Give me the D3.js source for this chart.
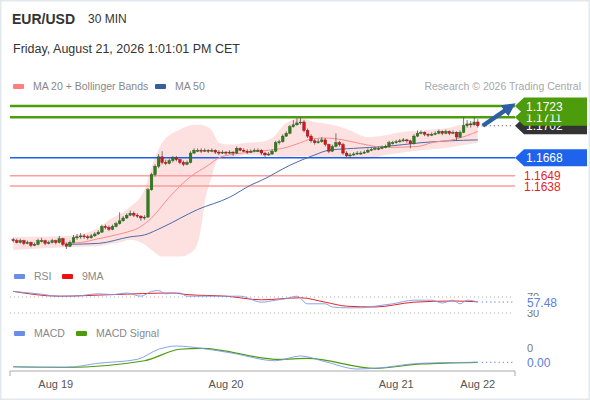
<!DOCTYPE html>
<html>
<head>
<meta charset="utf-8">
<script src="https://cdn.jsdelivr.net/npm/d3@7"></script>
<style>
  body { margin: 0; background: #fff; }
  svg { font-family: "Liberation Sans", Arial, sans-serif; display: block; }
</style>
</head>
<body>
<svg id="chart" width="590" height="400"></svg>
<script>
// 30 min candles, [open, high, low, close]
const candles = [
  [1.1581,1.1583,1.1578,1.1580],[1.1580,1.1582,1.1577,1.1578],[1.1578,1.1582,1.1577,1.1580],[1.1580,1.1581,1.1575,1.1577],
  [1.1577,1.1580,1.1576,1.1578],[1.1578,1.1579,1.1573,1.1575],[1.1575,1.1578,1.1574,1.1576],[1.1576,1.1582,1.1575,1.1580],
  [1.1580,1.1583,1.1578,1.1580],[1.1580,1.1581,1.1575,1.1577],[1.1577,1.1580,1.1576,1.1578],[1.1578,1.1582,1.1577,1.1580],
  [1.1580,1.1581,1.1576,1.1578],[1.1578,1.1585,1.1577,1.1582],[1.1582,1.1583,1.1574,1.1576],[1.1576,1.1578,1.1571,1.1574],
  [1.1574,1.1580,1.1573,1.1578],[1.1578,1.1586,1.1577,1.1583],[1.1583,1.1587,1.1581,1.1584],[1.1584,1.1588,1.1582,1.1585],
  [1.1585,1.1587,1.1582,1.1584],[1.1584,1.1586,1.1581,1.1583],[1.1583,1.1587,1.1582,1.1585],[1.1585,1.1589,1.1584,1.1587],
  [1.1587,1.1591,1.1586,1.1589],[1.1589,1.1597,1.1588,1.1595],[1.1595,1.1597,1.1592,1.1594],[1.1594,1.1596,1.1590,1.1592],
  [1.1592,1.1597,1.1591,1.1595],[1.1595,1.1600,1.1594,1.1598],[1.1598,1.1610,1.1597,1.1601],[1.1601,1.1606,1.1600,1.1604],
  [1.1604,1.1609,1.1603,1.1607],[1.1607,1.1612,1.1606,1.1609],[1.1609,1.1611,1.1605,1.1607],[1.1607,1.1609,1.1604,1.1606],
  [1.1606,1.1607,1.1601,1.1604],[1.1604,1.1607,1.1602,1.1605],[1.1605,1.1636,1.1604,1.1634],[1.1634,1.1652,1.1633,1.1650],
  [1.1650,1.1661,1.1648,1.1659],[1.1659,1.1672,1.1657,1.1669],[1.1669,1.1675,1.1661,1.1663],[1.1663,1.1666,1.1660,1.1662],
  [1.1662,1.1667,1.1661,1.1665],[1.1665,1.1670,1.1663,1.1668],[1.1668,1.1670,1.1664,1.1666],[1.1666,1.1667,1.1661,1.1663],
  [1.1663,1.1665,1.1659,1.1661],[1.1661,1.1665,1.1660,1.1663],[1.1663,1.1675,1.1662,1.1673],[1.1673,1.1678,1.1672,1.1676],
  [1.1676,1.1678,1.1674,1.1676],[1.1676,1.1678,1.1673,1.1675],[1.1675,1.1678,1.1674,1.1676],[1.1676,1.1677,1.1673,1.1675],
  [1.1675,1.1678,1.1674,1.1676],[1.1676,1.1677,1.1672,1.1674],[1.1674,1.1676,1.1671,1.1673],[1.1673,1.1676,1.1672,1.1674],
  [1.1674,1.1675,1.1671,1.1673],[1.1673,1.1676,1.1672,1.1674],[1.1674,1.1675,1.1670,1.1673],[1.1673,1.1680,1.1672,1.1678],
  [1.1678,1.1679,1.1675,1.1676],[1.1676,1.1678,1.1674,1.1675],[1.1675,1.1677,1.1672,1.1674],[1.1674,1.1677,1.1673,1.1675],
  [1.1675,1.1678,1.1674,1.1676],[1.1676,1.1678,1.1674,1.1676],[1.1676,1.1677,1.1671,1.1673],[1.1673,1.1674,1.1669,1.1671],
  [1.1671,1.1674,1.1670,1.1672],[1.1672,1.1677,1.1671,1.1675],[1.1675,1.1686,1.1674,1.1684],[1.1684,1.1687,1.1682,1.1685],
  [1.1685,1.1693,1.1684,1.1691],[1.1691,1.1696,1.1690,1.1694],[1.1694,1.1703,1.1693,1.1701],[1.1701,1.1708,1.1700,1.1703],
  [1.1703,1.1710,1.1702,1.1705],[1.1705,1.1711,1.1703,1.1706],[1.1706,1.1708,1.1695,1.1697],[1.1697,1.1699,1.1689,1.1691],
  [1.1691,1.1693,1.1684,1.1686],[1.1686,1.1688,1.1682,1.1684],[1.1684,1.1688,1.1683,1.1685],[1.1685,1.1690,1.1684,1.1687],
  [1.1687,1.1689,1.1680,1.1682],[1.1682,1.1683,1.1673,1.1675],[1.1675,1.1682,1.1674,1.1680],[1.1680,1.1694,1.1679,1.1684],
  [1.1684,1.1686,1.1680,1.1682],[1.1682,1.1684,1.1671,1.1673],[1.1673,1.1675,1.1668,1.1670],[1.1670,1.1673,1.1668,1.1671],
  [1.1671,1.1674,1.1670,1.1672],[1.1672,1.1675,1.1671,1.1673],[1.1673,1.1675,1.1671,1.1673],[1.1673,1.1676,1.1672,1.1674],
  [1.1674,1.1678,1.1673,1.1676],[1.1676,1.1679,1.1675,1.1677],[1.1677,1.1680,1.1676,1.1678],[1.1678,1.1680,1.1676,1.1678],
  [1.1678,1.1681,1.1677,1.1679],[1.1679,1.1682,1.1678,1.1680],[1.1680,1.1686,1.1679,1.1684],[1.1684,1.1686,1.1682,1.1684],
  [1.1684,1.1687,1.1683,1.1685],[1.1685,1.1688,1.1684,1.1686],[1.1686,1.1689,1.1685,1.1687],[1.1687,1.1688,1.1684,1.1686],
  [1.1686,1.1687,1.1678,1.1683],[1.1683,1.1693,1.1682,1.1691],[1.1691,1.1697,1.1690,1.1694],[1.1694,1.1697,1.1693,1.1695],
  [1.1695,1.1696,1.1691,1.1693],[1.1693,1.1694,1.1690,1.1692],[1.1692,1.1695,1.1691,1.1693],[1.1693,1.1696,1.1692,1.1694],
  [1.1694,1.1698,1.1693,1.1696],[1.1696,1.1697,1.1692,1.1694],[1.1694,1.1698,1.1693,1.1696],[1.1696,1.1697,1.1692,1.1694],
  [1.1694,1.1697,1.1693,1.1695],[1.1695,1.1696,1.1686,1.1690],[1.1690,1.1697,1.1689,1.1695],[1.1695,1.1711,1.1694,1.1702],
  [1.1702,1.1708,1.1700,1.1704],[1.1704,1.1707,1.1700,1.1703],[1.1703,1.1711,1.1702,1.1706],[1.1706,1.1709,1.1700,1.1702]
];

// moving averages read at candle indexes
const ma20Idx = [14,19,24,30,36,39,44,50,55,58,61,67,72,76,81,84,88,93,98,105,114,118,125,131];
const ma20Val = [1.1577,1.1578,1.1582,1.1587,1.1595,1.1604,1.1626,1.1648,1.1660,1.1668,1.1671,1.1674,1.1676,1.1678,1.1684,1.1688,1.1689,1.1687,1.1683,1.1679,1.1680,1.1684,1.1688,1.1696];
const ma50Idx = [15,24,33,37,42,52,61,67,70,78,85,89,96,105,115,123,131];
const ma50Val = [1.1576,1.1577,1.1584,1.1586,1.1594,1.1613,1.1626,1.1639,1.1644,1.1660,1.1671,1.1676,1.1678,1.1680,1.1684,1.1686,1.1687];

// bollinger bands
const bbIdx = [0,15,24,27,30,33,37,39,42,47,51,53,54,56,57,58,61,66,70,73,77,81,85,90,95,100,105,109,115,118,123,126,131];
const bbUpper = [1.1584,1.1585,1.1593,1.1602,1.1608,1.1616,1.1634,1.1658,1.1684,1.1698,1.1703,1.1703,1.1702,1.1697,1.1690,1.1684,1.1682,1.1684,1.1685,1.1689,1.1705,1.1710,1.1706,1.1703,1.1697,1.1690,1.1692,1.1695,1.1697,1.1698,1.1700,1.1703,1.1706];
const bbLower = [1.1570,1.1573,1.1574,1.1576,1.1578,1.1581,1.1576,1.1570,1.1563,1.1563,1.1570,1.1594,1.1620,1.1648,1.1662,1.1667,1.1668,1.1671,1.1670,1.1670,1.1669,1.1670,1.1669,1.1669,1.1666,1.1667,1.1671,1.1673,1.1676,1.1677,1.1679,1.1681,1.1684];

// key levels
const levels = [1.1723, 1.1711, 1.1668, 1.1649, 1.1638];
const levelKind = ["res", "res", "piv", "sup", "sup"];
const lastPrice = 1.1702;
const targetPrice = 1.1725;

// RSI panel
const rsiIdx = [0,7,13,17,24,28,32,36,39,41,43,47,49,53,60,64,70,74,77,80,83,88,90,94,98,102,107,113,118,121,124,126,128,131];
const rsiVal = [84,78,72,72,78,76,80,72,84,86,78,80,72,72,72,72,57,62,66,72,53,53,45,43,43,47,53,62,62,55,62,53,62,57.48];
const rsiMaIdx = [0,13,28,45,49,60,70,81,88,94,102,113,124,131];
const rsiMaVal = [84,72,76,80,76,72,63,68,57,47,45,57,60,58];
const rsiTicks = [70, 30];
const rsiLast = "57.48";

// MACD panel (x 1e-3)
const macdIdx = [0,15,24,35,41,46,53,62,74,81,88,97,102,115,131];
const macdVal = [-0.34,-0.38,-0.09,0.19,0.91,1.14,0.98,0.62,0.09,0.43,0.02,-0.5,-0.45,-0.09,-0.02];
const sigIdx = [0,15,37,47,53,75,83,102,115,131];
const sigVal = [-0.34,-0.38,0.09,0.91,0.98,0.19,0.26,-0.45,-0.14,-0.02];
const macdTicks = [1, -1];
const macdTickLabels = ["0", "-0"];
const macdLast = "0.00";

// x axis
const dateIdx = [12, 60, 108, 131];
const dateLabels = ["Aug 19", "Aug 20", "Aug 21", "Aug 22"];

const svg = d3.select("#chart");

// card frame
svg.append("rect").attr("x", 0.5).attr("y", 0.5).attr("width", 589).attr("height", 399)
  .attr("fill", "#fff").attr("stroke", "#e3e8ee").attr("stroke-width", 2);

// header
svg.append("text").attr("x", 12).attr("y", 24).attr("font-size", 14).attr("font-weight", "bold")
  .attr("fill", "#333").text("EUR/USD");
svg.append("text").attr("x", 88).attr("y", 23).attr("font-size", 12).attr("fill", "#333").text("30 MIN");
svg.append("text").attr("x", 13).attr("y", 53).attr("font-size", 12.5).attr("fill", "#333")
  .text("Friday, August 21, 2026 1:01:01 PM CET");

function legend(x, y, color, label) {
  svg.append("rect").attr("x", x).attr("y", y - 6).attr("width", 11).attr("height", 5).attr("rx", 1).attr("fill", color);
  svg.append("text").attr("x", x + 20).attr("y", y).attr("font-size", 10.5).attr("fill", "#888").text(label);
}
legend(13, 90, "#ff7e7e", "MA 20 + Bollinger Bands");
legend(155, 90, "#3a5d9c", "MA 50");
svg.append("text").attr("x", 581).attr("y", 90).attr("text-anchor", "end").attr("font-size", 10.5)
  .attr("fill", "#a8a8a8").text("Research \u00a9 2026 Trading Central");

// scales
const x = d3.scaleBand().domain(d3.range(candles.length)).range([11, 480]).padding(0.25);
const xc = i => x(i) + x.bandwidth() / 2;
const y = d3.scaleLinear().domain([1.1638, 1.1723]).range([186, 106]);
const plotRight = 513;

// bollinger band fill
const bb = bbIdx.map((d, i) => ({ i: d, hi: bbUpper[i], lo: bbLower[i] }));
svg.append("path").datum(bb)
  .attr("fill", "#fde1e1")
  .attr("d", d3.area().x(d => xc(d.i)).y0(d => y(d.lo)).y1(d => y(d.hi)).curve(d3.curveMonotoneX));

// level lines
const levelColor = { res: "#4c9c0c", piv: "#1d5fe6", sup: "#ff9d9d" };
levels.forEach((p, k) => {
  const kind = levelKind[k];
  svg.append("line").attr("x1", 10).attr("x2", plotRight + 2).attr("y1", y(p)).attr("y2", y(p))
    .attr("stroke", levelColor[kind]).attr("stroke-width", kind == "res" ? 2.5 : 1.5);
});

// moving averages
const lineGen = d3.line().x(d => xc(d[0])).y(d => y(d[1])).curve(d3.curveMonotoneX);
svg.append("path").attr("d", lineGen(ma50Idx.map((d, i) => [d, ma50Val[i]])))
  .attr("fill", "none").attr("stroke", "#4a6aa8").attr("stroke-width", 1);
svg.append("path").attr("d", lineGen(ma20Idx.map((d, i) => [d, ma20Val[i]])))
  .attr("fill", "none").attr("stroke", "#ff8a8a").attr("stroke-width", 1);

// candles
const cg = svg.append("g");
cg.selectAll("line").data(candles).join("line")
  .attr("x1", (d, i) => xc(i)).attr("x2", (d, i) => xc(i))
  .attr("y1", d => y(d[1])).attr("y2", d => y(d[2]))
  .attr("stroke", "#555").attr("stroke-width", 0.8);
cg.selectAll("rect").data(candles).join("rect")
  .attr("x", (d, i) => x(i))
  .attr("width", x.bandwidth())
  .attr("y", d => y(Math.max(d[0], d[3])))
  .attr("height", d => Math.max(1, Math.abs(y(d[0]) - y(d[3]))))
  .attr("fill", d => d[3] >= d[0] ? "#2f7d1c" : "#d8141c")
  .attr("stroke", d => d[3] >= d[0] ? "#1f5a12" : "#8a1010")
  .attr("stroke-width", 0.4);

// last price dotted line
const lastX = xc(candles.length - 1);
svg.append("line").attr("x1", lastX + 4).attr("x2", plotRight).attr("y1", y(lastPrice)).attr("y2", y(lastPrice))
  .attr("stroke", "#444").attr("stroke-dasharray", "1,3");

// forecast arrow
svg.append("defs").append("marker").attr("id", "ah").attr("viewBox", "0 0 10 10")
  .attr("refX", 5).attr("refY", 5).attr("markerWidth", 3).attr("markerHeight", 3).attr("orient", "auto")
  .append("path").attr("d", "M0,0L10,5L0,10Z").attr("fill", "#2e5ea5");
svg.append("line").attr("x1", lastX + 5).attr("y1", y(lastPrice))
  .attr("x2", plotRight - 3).attr("y2", y(targetPrice) + 3)
  .attr("stroke", "#2e5ea5").attr("stroke-width", 4.5).attr("marker-end", "url(#ah)");

// level tags
function tag(p, fill, label) {
  const yy = y(p);
  svg.append("path")
    .attr("d", `M${plotRight + 2},${yy} L${plotRight + 11},${yy - 8.5} L587,${yy - 8.5} L587,${yy + 8.5} L${plotRight + 11},${yy + 8.5} Z`)
    .attr("fill", fill);
  svg.append("text").attr("x", 526).attr("y", yy + 4.5).attr("font-size", 12).attr("fill", "#fff").text(label);
}
tag(lastPrice, "#333", lastPrice.toFixed(4));
tag(levels[1], "#4c9c0c", levels[1].toFixed(4));
tag(levels[0], "#4c9c0c", levels[0].toFixed(4));
tag(levels[2], "#1d63ec", levels[2].toFixed(4));
levels.forEach((p, k) => {
  if (levelKind[k] == "sup") {
    svg.append("text").attr("x", 524).attr("y", y(p) + 4.5).attr("font-size", 12).attr("fill", "#e62424").text(p.toFixed(4));
  }
});

// RSI panel
legend(14, 280, "#6b8de8", "RSI");
legend(62, 280, "#ee1111", "9MA");
const yr = d3.scaleLinear().domain([30, 70]).range([313, 297]);
rsiTicks.forEach(t => {
  svg.append("line").attr("x1", 10).attr("x2", plotRight).attr("y1", yr(t)).attr("y2", yr(t))
    .attr("stroke", "#aaa").attr("stroke-dasharray", "1,3");
  svg.append("text").attr("x", 527).attr("y", yr(t) + 4).attr("font-size", 11).attr("fill", "#777").text(t);
});
const rLine = d3.line().x(d => xc(d[0])).y(d => yr(d[1])).curve(d3.curveMonotoneX);
svg.append("path").attr("d", rLine(rsiMaIdx.map((d, i) => [d, rsiMaVal[i]])))
  .attr("fill", "none").attr("stroke", "#e82222").attr("stroke-width", 1);
svg.append("path").attr("d", rLine(rsiIdx.map((d, i) => [d, rsiVal[i]])))
  .attr("fill", "none").attr("stroke", "#7b98e8").attr("stroke-width", 0.9);
const rLastY = yr(rsiVal[rsiVal.length - 1]);
svg.append("line").attr("x1", lastX + 4).attr("x2", plotRight).attr("y1", rLastY).attr("y2", rLastY)
  .attr("stroke", "#5a7fe0").attr("stroke-dasharray", "1.2,3");
svg.append("rect").attr("x", 524).attr("y", rLastY - 6).attr("width", 40).attr("height", 14).attr("fill", "#fff");
svg.append("text").attr("x", 527).attr("y", rLastY + 4.5).attr("font-size", 12).attr("fill", "#5a7fe0").text(rsiLast);

// MACD panel
legend(14, 337, "#6b8de8", "MACD");
legend(76, 337, "#4c9c0c", "MACD Signal");
const ym = d3.scaleLinear().domain([-1, 1]).range([376, 348]);
svg.append("clipPath").attr("id", "mclip").append("rect").attr("x", 500).attr("y", 330).attr("width", 90).attr("height", 42);
const mt = svg.append("g").attr("clip-path", "url(#mclip)");
macdTicks.forEach((t, k) => {
  mt.append("text").attr("x", 527).attr("y", ym(t) + 4).attr("font-size", 11).attr("fill", "#777").text(macdTickLabels[k]);
});
const mLine = d3.line().x(d => xc(d[0])).y(d => ym(d[1])).curve(d3.curveMonotoneX);
svg.append("path").attr("d", mLine(sigIdx.map((d, i) => [d, sigVal[i]])))
  .attr("fill", "none").attr("stroke", "#4c9c0c").attr("stroke-width", 1.2);
svg.append("path").attr("d", mLine(macdIdx.map((d, i) => [d, macdVal[i]])))
  .attr("fill", "none").attr("stroke", "#7b98e8").attr("stroke-width", 0.9);
const mLastY = ym(macdVal[macdVal.length - 1]);
svg.append("line").attr("x1", lastX + 4).attr("x2", plotRight).attr("y1", mLastY).attr("y2", mLastY)
  .attr("stroke", "#5a7fe0").attr("stroke-dasharray", "1.2,3");
svg.append("text").attr("x", 527).attr("y", mLastY + 4.5).attr("font-size", 12).attr("fill", "#5a7fe0").text(macdLast);

// x axis
const axisY = 371;
svg.append("path").attr("d", `M10,${axisY + 5}V${axisY}H${plotRight + 2}V${axisY + 5}`)
  .attr("fill", "none").attr("stroke", "#aaa").attr("stroke-width", 1);
svg.selectAll(".dl").data(dateIdx).join("text")
  .attr("class", "dl")
  .attr("x", d => xc(d)).attr("y", 388)
  .attr("text-anchor", "middle").attr("font-size", 11).attr("fill", "#555")
  .text((d, i) => dateLabels[i]);
</script>
</body>
</html>
